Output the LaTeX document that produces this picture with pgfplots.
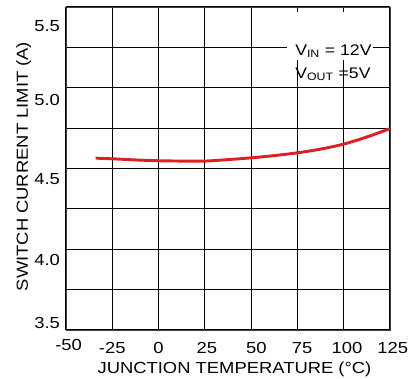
\documentclass[border=0pt]{standalone}
\usepackage{fontspec}
\setmainfont{Liberation Sans}[FakeStretch=1.15]
\usepackage{pgfplots}
\pgfplotsset{compat=1.18}
\definecolor{curvered}{RGB}{222,32,36}
\begin{document}
\begin{tikzpicture}
\begin{axis}[
  scale only axis,
  width=243pt, height=242.25pt,
  xmin=-50, xmax=125, ymin=3.5, ymax=5.5,
  xtick={-50,-25,0,25,50,75,100,125},
  xticklabels={-50,-25,0,25,50,75,100,125},
  ytick={3.5,3.75,4,4.25,4.5,4.75,5,5.25,5.5},
  yticklabels={3.5,,4.0,,4.5,,5.0,,5.5},
  major tick length=0pt,
  grid=major,
  major grid style={black, line width=0.8pt},
  axis line style={black!75, line width=0.6pt},
  tick label style={font=\fontsize{12}{13.5}\selectfont},
  xticklabel style={
    yshift={-6+2.25*(\ticknum==0)},
    xshift={{2,0,0,1.5,4,3.5,2.5,2}[\ticknum]}},
  yticklabel style={
    xshift=-1pt,
    yshift={{5.25,0,-8,0,-8,0,-9,0,-14}[\ticknum]}},
  label style={font=\fontsize{12}{13.5}\selectfont},
  xlabel={JUNCTION TEMPERATURE (°C)},
  ylabel={SWITCH CURRENT LIMIT (A)},
  xlabel style={at={(axis description cs:0.52,-0.1362)}, anchor=base},
  ylabel style={at={(axis description cs:-0.1173,0.506)}, anchor=base},
  clip=false,
]
\addplot[curvered, line width=2.2pt, smooth] coordinates {
  (-34,4.564) (-25,4.560) (-12.5,4.553) (0,4.548) (12.5,4.546) (25,4.546)
  (37.5,4.555) (50,4.566) (62.5,4.580) (75,4.597) (87.5,4.620)
  (100,4.651) (112.5,4.695) (125,4.747)
};
\fill[white] (axis cs:69.4,5.171) rectangle (axis cs:115.8,5.468);
\node[anchor=base west, inner sep=0pt, font=\fontsize{11.5}{13}\selectfont]
  at (axis cs:73.7,5.20) {V\textsubscript{IN} = 12V};
\node[anchor=base west, inner sep=0pt, font=\fontsize{11.5}{13}\selectfont]
  at (axis cs:73.7,5.06) {V\textsubscript{OUT} =5V};
\end{axis}
\pgfresetboundingbox
\path[use as bounding box] (-49.5pt,-36pt) rectangle (258pt,247.5pt);
\end{tikzpicture}
\end{document}
